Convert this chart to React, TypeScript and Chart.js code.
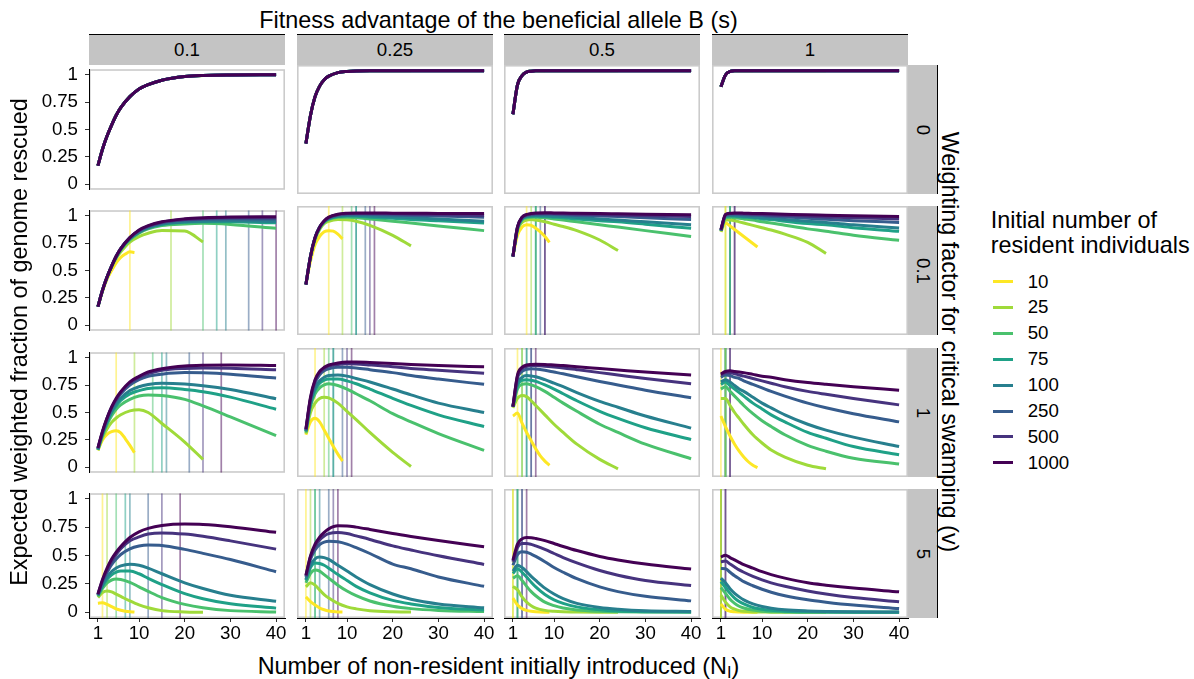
import React, { useEffect, useRef } from 'react';
import { Chart, registerables } from 'chart.js';

Chart.register(...registerables);

const FONT_FAMILY = '"Liberation Sans", Arial, Helvetica, sans-serif';
const TITLE_SIZE = 23.4;
const TEXT_SIZE = 18.7;

// ---------------- data ----------------
const S_LABELS = ['0.1', '0.25', '0.5', '1'];
const V_LABELS = ['0', '0.1', '1', '5'];
const RESIDENT_LABELS = ['10', '25', '50', '75', '100', '250', '500', '1000'];
const RESIDENT_COLORS = ['#FDE725', '#9FDA3A', '#4AC16D', '#1FA187', '#277F8E', '#365C8D', '#46337E', '#440154'];
const RESIDENT_MAX_X = [9, 24, 40, 40, 40, 40, 40, 40];
const X_TICKS = [1, 10, 20, 30, 40];
const Y_TICKS = [0, 0.25, 0.5, 0.75, 1];
const Y_TICK_LABELS = ['0', '0.25', '0.5', '0.75', '1'];

// N_I values at which the curves are read (N=10 uses X_GRID_10, N=25 stops at 24)
const X_GRID_10 = [1, 2, 3, 4, 5, 6, 7, 8, 9];
const X_GRID = [1, 2, 3, 4, 5, 6, 8, 10, 12, 15, 20, 24, 30, 40];

// v = 0 : every resident size gives the same curve
const V0_S010 = [0.17, 0.32, 0.44, 0.54, 0.63, 0.70, 0.80, 0.87, 0.91, 0.95, 0.983, 0.993, 0.998, 1.0];
const V0_S025 = [0.38, 0.62, 0.78, 0.87, 0.925, 0.955, 0.985, 0.995, 0.999, 1, 1, 1, 1, 1];
const V0_S050 = [0.63, 0.88, 0.96, 0.99, 0.997, 1, 1, 1, 1, 1, 1, 1, 1, 1];
const V0_S100 = [0.865, 0.965, 0.995, 1, 1, 1, 1, 1, 1, 1, 1, 1, 1, 1];

// v = 0.1 : one row per resident size (10, 25, 50, 75, 100, 250, 500, 1000)
const V01_S010 = [
  [0.17, 0.31, 0.42, 0.50, 0.57, 0.62, 0.65, 0.67, 0.665],
  [0.17, 0.31, 0.43, 0.53, 0.61, 0.67, 0.76, 0.81, 0.84, 0.865, 0.86, 0.76],
  [0.17, 0.32, 0.44, 0.54, 0.62, 0.69, 0.78, 0.84, 0.88, 0.91, 0.925, 0.93, 0.92, 0.885],
  [0.17, 0.32, 0.44, 0.54, 0.62, 0.69, 0.79, 0.85, 0.89, 0.92, 0.94, 0.945, 0.945, 0.935],
  [0.17, 0.32, 0.44, 0.54, 0.63, 0.70, 0.79, 0.85, 0.89, 0.925, 0.945, 0.95, 0.953, 0.948],
  [0.17, 0.32, 0.44, 0.54, 0.63, 0.70, 0.80, 0.86, 0.90, 0.935, 0.96, 0.967, 0.972, 0.97],
  [0.17, 0.32, 0.44, 0.54, 0.63, 0.70, 0.80, 0.865, 0.905, 0.94, 0.965, 0.975, 0.981, 0.982],
  [0.17, 0.32, 0.44, 0.54, 0.63, 0.70, 0.80, 0.87, 0.91, 0.945, 0.972, 0.982, 0.988, 0.99],
];
const V01_S025 = [
  [0.38, 0.58, 0.72, 0.79, 0.83, 0.84, 0.835, 0.81, 0.77],
  [0.38, 0.61, 0.76, 0.85, 0.90, 0.92, 0.935, 0.932, 0.92, 0.885, 0.80, 0.71],
  [0.38, 0.62, 0.77, 0.86, 0.91, 0.935, 0.953, 0.955, 0.95, 0.94, 0.92, 0.905, 0.88, 0.84],
  [0.38, 0.62, 0.78, 0.865, 0.915, 0.94, 0.96, 0.965, 0.962, 0.955, 0.945, 0.935, 0.925, 0.905],
  [0.38, 0.62, 0.78, 0.87, 0.918, 0.945, 0.965, 0.97, 0.97, 0.965, 0.957, 0.95, 0.94, 0.92],
  [0.38, 0.62, 0.78, 0.87, 0.92, 0.95, 0.973, 0.98, 0.98, 0.978, 0.974, 0.97, 0.965, 0.955],
  [0.38, 0.62, 0.78, 0.87, 0.92, 0.952, 0.977, 0.985, 0.987, 0.986, 0.983, 0.98, 0.976, 0.97],
  [0.38, 0.62, 0.78, 0.87, 0.925, 0.955, 0.98, 0.988, 0.99, 0.99, 0.989, 0.988, 0.987, 0.985],
];
const V01_S050 = [
  [0.62, 0.80, 0.87, 0.89, 0.885, 0.86, 0.83, 0.79, 0.74],
  [0.62, 0.84, 0.91, 0.93, 0.935, 0.93, 0.915, 0.895, 0.875, 0.84, 0.76, 0.67],
  [0.62, 0.85, 0.93, 0.95, 0.955, 0.955, 0.95, 0.94, 0.93, 0.915, 0.89, 0.87, 0.84, 0.79],
  [0.62, 0.86, 0.94, 0.958, 0.962, 0.962, 0.96, 0.955, 0.95, 0.94, 0.925, 0.915, 0.895, 0.86],
  [0.62, 0.86, 0.94, 0.962, 0.967, 0.968, 0.967, 0.963, 0.96, 0.952, 0.94, 0.93, 0.915, 0.89],
  [0.62, 0.87, 0.95, 0.97, 0.978, 0.98, 0.98, 0.978, 0.975, 0.97, 0.965, 0.96, 0.95, 0.935],
  [0.62, 0.87, 0.95, 0.975, 0.983, 0.986, 0.987, 0.986, 0.984, 0.98, 0.976, 0.972, 0.967, 0.96],
  [0.62, 0.87, 0.955, 0.978, 0.986, 0.99, 0.992, 0.991, 0.99, 0.988, 0.985, 0.983, 0.98, 0.975],
];
const V01_S100 = [
  [0.83, 0.905, 0.88, 0.85, 0.82, 0.79, 0.76, 0.73, 0.70],
  [0.83, 0.93, 0.93, 0.925, 0.915, 0.905, 0.885, 0.865, 0.845, 0.81, 0.74, 0.645],
  [0.84, 0.95, 0.955, 0.95, 0.945, 0.94, 0.93, 0.915, 0.905, 0.885, 0.855, 0.835, 0.80, 0.757],
  [0.84, 0.96, 0.965, 0.962, 0.958, 0.955, 0.95, 0.94, 0.935, 0.92, 0.90, 0.89, 0.865, 0.834],
  [0.84, 0.965, 0.97, 0.968, 0.965, 0.962, 0.957, 0.95, 0.945, 0.935, 0.92, 0.91, 0.89, 0.863],
  [0.84, 0.97, 0.98, 0.98, 0.978, 0.976, 0.972, 0.968, 0.963, 0.957, 0.945, 0.937, 0.925, 0.91],
  [0.845, 0.975, 0.985, 0.986, 0.985, 0.984, 0.98, 0.977, 0.974, 0.97, 0.962, 0.957, 0.95, 0.94],
  [0.85, 0.978, 0.988, 0.99, 0.99, 0.989, 0.987, 0.985, 0.983, 0.98, 0.975, 0.972, 0.967, 0.96],
];

// v = 1
const V1_S010 = [
  [0.155, 0.25, 0.30, 0.325, 0.333, 0.315, 0.26, 0.20, 0.134],
  [0.155, 0.27, 0.35, 0.41, 0.45, 0.48, 0.515, 0.525, 0.50, 0.40, 0.23, 0.072],
  [0.16, 0.29, 0.39, 0.47, 0.53, 0.57, 0.62, 0.65, 0.66, 0.655, 0.62, 0.56, 0.46, 0.29],
  [0.16, 0.30, 0.41, 0.50, 0.56, 0.61, 0.67, 0.70, 0.72, 0.725, 0.71, 0.69, 0.64, 0.53],
  [0.165, 0.31, 0.42, 0.51, 0.58, 0.63, 0.70, 0.735, 0.755, 0.767, 0.76, 0.745, 0.71, 0.625],
  [0.17, 0.32, 0.44, 0.54, 0.61, 0.67, 0.75, 0.80, 0.83, 0.85, 0.864, 0.862, 0.85, 0.815],
  [0.175, 0.32, 0.45, 0.55, 0.62, 0.68, 0.77, 0.82, 0.855, 0.885, 0.902, 0.906, 0.904, 0.89],
  [0.177, 0.33, 0.45, 0.55, 0.63, 0.69, 0.78, 0.83, 0.87, 0.90, 0.925, 0.932, 0.934, 0.928],
];
const V1_S025 = [
  [0.31, 0.42, 0.45, 0.42, 0.35, 0.28, 0.21, 0.145, 0.086],
  [0.32, 0.50, 0.58, 0.62, 0.63, 0.625, 0.58, 0.51, 0.44, 0.33, 0.16, 0.04],
  [0.33, 0.55, 0.66, 0.71, 0.735, 0.745, 0.73, 0.70, 0.66, 0.60, 0.49, 0.42, 0.32, 0.177],
  [0.34, 0.57, 0.69, 0.75, 0.775, 0.785, 0.785, 0.77, 0.745, 0.70, 0.62, 0.56, 0.48, 0.38],
  [0.34, 0.58, 0.71, 0.77, 0.80, 0.815, 0.82, 0.81, 0.79, 0.76, 0.70, 0.65, 0.58, 0.50],
  [0.35, 0.61, 0.75, 0.82, 0.855, 0.872, 0.885, 0.885, 0.88, 0.865, 0.84, 0.815, 0.785, 0.74],
  [0.355, 0.62, 0.77, 0.84, 0.875, 0.895, 0.91, 0.915, 0.913, 0.905, 0.89, 0.875, 0.86, 0.835],
  [0.36, 0.63, 0.78, 0.85, 0.885, 0.905, 0.922, 0.93, 0.93, 0.926, 0.918, 0.91, 0.90, 0.89],
];
const V1_S050 = [
  [0.47, 0.495, 0.41, 0.33, 0.26, 0.19, 0.13, 0.085, 0.05],
  [0.54, 0.62, 0.645, 0.635, 0.60, 0.56, 0.48, 0.40, 0.33, 0.23, 0.10, 0.02],
  [0.55, 0.70, 0.74, 0.745, 0.735, 0.72, 0.68, 0.63, 0.58, 0.51, 0.40, 0.33, 0.23, 0.106],
  [0.55, 0.73, 0.775, 0.78, 0.775, 0.765, 0.735, 0.70, 0.66, 0.60, 0.51, 0.45, 0.37, 0.27],
  [0.55, 0.75, 0.80, 0.815, 0.812, 0.805, 0.78, 0.75, 0.72, 0.67, 0.595, 0.545, 0.47, 0.367],
  [0.55, 0.79, 0.85, 0.868, 0.872, 0.87, 0.86, 0.845, 0.83, 0.805, 0.765, 0.735, 0.69, 0.625],
  [0.55, 0.81, 0.875, 0.893, 0.90, 0.90, 0.895, 0.888, 0.88, 0.865, 0.84, 0.82, 0.79, 0.745],
  [0.55, 0.82, 0.885, 0.905, 0.91, 0.912, 0.91, 0.905, 0.90, 0.89, 0.875, 0.863, 0.845, 0.82],
];
const V1_S100 = [
  [0.47, 0.38, 0.30, 0.23, 0.17, 0.12, 0.08, 0.05, 0.03],
  [0.62, 0.62, 0.56, 0.50, 0.45, 0.40, 0.31, 0.24, 0.18, 0.12, 0.05, 0.02],
  [0.70, 0.72, 0.68, 0.64, 0.60, 0.56, 0.49, 0.43, 0.38, 0.31, 0.22, 0.17, 0.11, 0.06],
  [0.74, 0.76, 0.73, 0.70, 0.67, 0.64, 0.58, 0.53, 0.48, 0.42, 0.33, 0.28, 0.21, 0.14],
  [0.76, 0.78, 0.76, 0.73, 0.70, 0.68, 0.63, 0.58, 0.54, 0.48, 0.40, 0.35, 0.29, 0.21],
  [0.80, 0.82, 0.815, 0.80, 0.79, 0.77, 0.74, 0.71, 0.68, 0.64, 0.58, 0.54, 0.49, 0.42],
  [0.82, 0.84, 0.84, 0.83, 0.82, 0.81, 0.79, 0.77, 0.75, 0.72, 0.68, 0.655, 0.62, 0.565],
  [0.83, 0.85, 0.855, 0.85, 0.845, 0.84, 0.825, 0.81, 0.80, 0.78, 0.755, 0.74, 0.72, 0.69],
];

// v = 5
const V5_S010 = [
  [0.08, 0.085, 0.07, 0.05, 0.03, 0.018, 0.01, 0.005, 0.002],
  [0.13, 0.175, 0.188, 0.18, 0.16, 0.14, 0.10, 0.065, 0.04, 0.015, 0.003, 0.0],
  [0.14, 0.21, 0.26, 0.285, 0.293, 0.29, 0.265, 0.225, 0.185, 0.13, 0.07, 0.04, 0.015, 0.003],
  [0.15, 0.23, 0.29, 0.33, 0.355, 0.365, 0.365, 0.34, 0.30, 0.245, 0.165, 0.12, 0.075, 0.037],
  [0.15, 0.24, 0.31, 0.36, 0.39, 0.41, 0.424, 0.415, 0.39, 0.34, 0.26, 0.21, 0.15, 0.097],
  [0.155, 0.27, 0.35, 0.42, 0.47, 0.51, 0.56, 0.585, 0.594, 0.59, 0.555, 0.52, 0.465, 0.358],
  [0.16, 0.28, 0.37, 0.45, 0.51, 0.56, 0.63, 0.665, 0.69, 0.70, 0.69, 0.67, 0.63, 0.557],
  [0.16, 0.29, 0.39, 0.47, 0.53, 0.58, 0.66, 0.71, 0.74, 0.765, 0.778, 0.775, 0.755, 0.705],
];
const V5_S025 = [
  [0.13, 0.09, 0.06, 0.035, 0.02, 0.01, 0.005, 0.002, 0.001],
  [0.215, 0.25, 0.23, 0.19, 0.15, 0.12, 0.075, 0.045, 0.028, 0.012, 0.003, 0.001],
  [0.25, 0.33, 0.36, 0.35, 0.32, 0.29, 0.23, 0.18, 0.14, 0.095, 0.05, 0.03, 0.015, 0.005],
  [0.27, 0.38, 0.42, 0.415, 0.40, 0.375, 0.32, 0.27, 0.22, 0.165, 0.10, 0.07, 0.04, 0.018],
  [0.28, 0.40, 0.455, 0.47, 0.465, 0.45, 0.40, 0.35, 0.30, 0.235, 0.155, 0.11, 0.07, 0.037],
  [0.30, 0.45, 0.53, 0.575, 0.597, 0.605, 0.60, 0.58, 0.55, 0.50, 0.41, 0.37, 0.30, 0.22],
  [0.31, 0.47, 0.56, 0.615, 0.65, 0.67, 0.68, 0.67, 0.65, 0.62, 0.565, 0.53, 0.48, 0.407],
  [0.315, 0.48, 0.58, 0.64, 0.68, 0.71, 0.736, 0.735, 0.725, 0.705, 0.67, 0.645, 0.61, 0.557],
];
const V5_S050 = [
  [0.12, 0.06, 0.03, 0.015, 0.007, 0.003, 0.001, 0, 0],
  [0.22, 0.19, 0.13, 0.085, 0.055, 0.035, 0.015, 0.007, 0.003, 0.001, 0, 0],
  [0.29, 0.31, 0.27, 0.22, 0.175, 0.14, 0.085, 0.055, 0.035, 0.018, 0.007, 0.003, 0.001, 0],
  [0.33, 0.37, 0.34, 0.30, 0.255, 0.215, 0.15, 0.105, 0.075, 0.045, 0.02, 0.01, 0.004, 0.001],
  [0.35, 0.40, 0.38, 0.345, 0.305, 0.27, 0.205, 0.155, 0.115, 0.075, 0.04, 0.025, 0.012, 0.005],
  [0.40, 0.49, 0.514, 0.51, 0.495, 0.475, 0.43, 0.38, 0.34, 0.285, 0.215, 0.175, 0.135, 0.096],
  [0.43, 0.55, 0.585, 0.585, 0.578, 0.565, 0.535, 0.50, 0.465, 0.42, 0.355, 0.315, 0.27, 0.227],
  [0.443, 0.58, 0.625, 0.637, 0.635, 0.628, 0.61, 0.585, 0.56, 0.525, 0.475, 0.445, 0.41, 0.367],
];
const V5_S100 = [
  [0.07, 0.025, 0.008, 0.003, 0.001, 0, 0, 0, 0],
  [0.145, 0.085, 0.045, 0.025, 0.013, 0.007, 0.002, 0.001, 0, 0, 0, 0],
  [0.21, 0.16, 0.11, 0.075, 0.05, 0.035, 0.017, 0.008, 0.004, 0.002, 0, 0, 0, 0],
  [0.26, 0.21, 0.16, 0.12, 0.09, 0.07, 0.04, 0.025, 0.015, 0.008, 0.003, 0.001, 0, 0],
  [0.29, 0.25, 0.20, 0.16, 0.13, 0.105, 0.07, 0.048, 0.034, 0.02, 0.01, 0.006, 0.003, 0.001],
  [0.372, 0.37, 0.34, 0.31, 0.285, 0.26, 0.225, 0.195, 0.17, 0.14, 0.105, 0.085, 0.06, 0.03],
  [0.43, 0.435, 0.41, 0.385, 0.36, 0.34, 0.305, 0.275, 0.25, 0.22, 0.18, 0.155, 0.125, 0.088],
  [0.47, 0.486, 0.465, 0.445, 0.425, 0.405, 0.375, 0.345, 0.32, 0.29, 0.25, 0.23, 0.205, 0.173],
];

// optimal N_I (vertical lines), per s column, per resident size
const OPT_V01 = [
  [8, 17, 24, 27, 29, 34, 37, 40],
  [6, 9, 11, 12, 12, 14, 15, 16],
  [4, 5, 6, 6, 6, 7, 8, 8],
  [2, 2, 3, 3, 3, 3, 4, 4],
];
const OPT_V1 = [
  [5, 9, 13, 15, 16, 21, 24, 28],
  [3, 5, 6, 7, 7, 9, 10, 11],
  [2, 3, 3, 4, 4, 5, 5, 6],
  [1, 2, 2, 2, 2, 2, 3, 3],
];
const OPT_V5 = [
  [2, 3, 5, 7, 8, 12, 15, 19],
  [1, 2, 3, 3, 4, 6, 7, 8],
  [1, 1, 2, 2, 2, 3, 3, 4],
  [1, 1, 1, 1, 1, 1, 2, 2],
];

const V0_CURVES = [V0_S010, V0_S025, V0_S050, V0_S100];
const ROW_PANELS = [null, [V01_S010, V01_S025, V01_S050, V01_S100], [V1_S010, V1_S025, V1_S050, V1_S100], [V5_S010, V5_S025, V5_S050, V5_S100]];
const ROW_OPTIMA = [null, OPT_V01, OPT_V1, OPT_V5];

// ---------------- layout ----------------
const COL_LEFT = [89, 297, 504, 712];
const ROW_TOP = [65, 206, 348, 489];
const PW = 196;
const PH = 129;
const M = 14;
const YAX = 60;
const XAX = 34;
const STRIP_FILL = '#c4c4c4';
const PANEL_BORDER = '#cbcbcb';

function withAlpha(hex: string, a: number) {
  const r = parseInt(hex.slice(1, 3), 16);
  const g = parseInt(hex.slice(3, 5), 16);
  const b = parseInt(hex.slice(5, 7), 16);
  return `rgba(${r},${g},${b},${a})`;
}

function seriesPoints(row: number, col: number, i: number) {
  if (row === 0) {
    const vals = V0_CURVES[col];
    return X_GRID.map((x, k) => ({ x, y: vals[k] })).filter((p) => p.x <= RESIDENT_MAX_X[i]);
  }
  const vals = (ROW_PANELS[row] as number[][][])[col][i];
  const xs = i === 0 ? X_GRID_10 : X_GRID;
  return vals.map((y, k) => ({ x: xs[k], y }));
}

function geometry(row: number, col: number) {
  const padL = col === 0 ? YAX : M;
  const padB = row === 3 ? XAX : M;
  return {
    left: COL_LEFT[col] - padL,
    top: ROW_TOP[row] - M,
    w: padL + PW + M,
    h: M + PH + padB,
  };
}

const panelBorderPlugin = {
  id: 'panelBorder',
  beforeDraw(chart: any) {
    const { left, top, right, bottom } = chart.chartArea;
    const ctx = chart.ctx;
    ctx.save();
    ctx.strokeStyle = PANEL_BORDER;
    ctx.lineWidth = 1.6;
    ctx.strokeRect(left + 0.8, top + 0.8, right - left - 1.6, bottom - top - 1.6);
    ctx.restore();
  },
};

function buildConfig(row: number, col: number): any {
  const datasets: any[] = [];
  const opt = ROW_OPTIMA[row];
  if (opt) {
    opt[col].forEach((xv, i) => {
      datasets.push({
        data: [{ x: xv, y: -0.05 }, { x: xv, y: 1.05 }],
        borderColor: withAlpha(RESIDENT_COLORS[i], 0.5),
        borderWidth: 1.7,
        pointRadius: 0,
        tension: 0,
        order: 20 + i,
      });
    });
  }
  RESIDENT_LABELS.forEach((lab, i) => {
    datasets.push({
      label: lab,
      data: seriesPoints(row, col, i),
      borderColor: RESIDENT_COLORS[i],
      borderWidth: 3,
      pointRadius: 0,
      cubicInterpolationMode: 'monotone',
      order: 7 - i,
    });
  });
  const isLeft = col === 0;
  const isBottom = row === 3;
  const tickFont = { family: FONT_FAMILY, size: TEXT_SIZE };
  return {
    type: 'line',
    data: { datasets },
    options: {
      responsive: false,
      animation: false,
      devicePixelRatio: 1,
      events: [],
      layout: { padding: { left: isLeft ? 0 : M, right: M, top: M, bottom: isBottom ? 0 : M } },
      plugins: { legend: { display: false }, tooltip: { enabled: false } },
      scales: {
        x: {
          type: 'linear',
          min: -0.95,
          max: 41.95,
          display: isBottom,
          afterBuildTicks: (s: any) => { s.ticks = X_TICKS.map((v) => ({ value: v })); },
          afterFit: (s: any) => { s.height = isBottom ? XAX : 0; },
          ticks: { font: tickFont, color: '#000', padding: 1, maxRotation: 0, autoSkip: false, callback: (v: any) => String(v) },
          grid: { drawOnChartArea: false, drawTicks: true, tickLength: 4, color: '#333', lineWidth: 1 },
          border: { display: true, color: '#000', width: 1 },
        },
        y: {
          type: 'linear',
          min: -0.05,
          max: 1.05,
          display: isLeft,
          afterBuildTicks: (s: any) => { s.ticks = Y_TICKS.map((v) => ({ value: v })); },
          afterFit: (s: any) => { s.width = isLeft ? YAX : 0; },
          ticks: { font: tickFont, color: '#000', padding: 7, autoSkip: false, callback: (_v: any, idx: number) => Y_TICK_LABELS[idx] },
          grid: { drawOnChartArea: false, drawTicks: true, tickLength: 4, color: '#333', lineWidth: 1 },
          border: { display: true, color: '#000', width: 1 },
        },
      },
    },
    plugins: [panelBorderPlugin],
  };
}

function Panel({ row, col }: { row: number; col: number }) {
  const ref = useRef<HTMLCanvasElement>(null);
  useEffect(() => {
    const chart = new Chart(ref.current as HTMLCanvasElement, buildConfig(row, col));
    return () => chart.destroy();
  }, [row, col]);
  const g = geometry(row, col);
  return (
    <canvas
      ref={ref}
      width={g.w}
      height={g.h}
      style={{ position: 'absolute', left: g.left, top: g.top, width: g.w, height: g.h }}
    />
  );
}

function Label({ x, y, size, children, anchor = 'middle', rotate = 0 }: any) {
  const shift = anchor === 'middle' ? '-50%' : anchor === 'end' ? '-100%' : '0';
  return (
    <div style={{ position: 'absolute', left: x, top: y, width: 0, height: 0, transform: rotate ? `rotate(${rotate}deg)` : undefined, transformOrigin: '0 0' }}>
      <div
        style={{
          position: 'absolute',
          left: 0,
          top: -0.8465 * size,
          whiteSpace: 'nowrap',
          fontFamily: FONT_FAMILY,
          fontSize: size,
          lineHeight: `${size}px`,
          color: '#000',
          transform: `translateX(${shift})`,
        }}
      >
        {children}
      </div>
    </div>
  );
}

export default function App() {
  const panels: any[] = [];
  for (let r = 0; r < 4; r++) for (let c = 0; c < 4; c++) panels.push(<Panel key={`${r}-${c}`} row={r} col={c} />);
  const centerX = (COL_LEFT[0] + COL_LEFT[3] + PW) / 2;
  const centerY = (ROW_TOP[0] + ROW_TOP[3] + PH) / 2;
  const digitHalf = 0.716 * TEXT_SIZE / 2;
  return (
    <div style={{ position: 'absolute', left: 0, top: 0, width: 1194, height: 679, background: '#fff', overflow: 'hidden' }}>
      {S_LABELS.map((s, c) => (
        <React.Fragment key={`s${c}`}>
          <div style={{ position: 'absolute', left: COL_LEFT[c], top: 34, width: PW, height: 31, background: STRIP_FILL }} />
          <div style={{ position: 'absolute', left: COL_LEFT[c], top: 33.5, width: PW, height: 1.5, background: '#000' }} />
          <Label x={COL_LEFT[c] + PW / 2} y={50 + digitHalf} size={TEXT_SIZE}>{s}</Label>
        </React.Fragment>
      ))}
      {V_LABELS.map((v, r) => (
        <React.Fragment key={`v${r}`}>
          <div style={{ position: 'absolute', left: 908, top: ROW_TOP[r], width: 29, height: PH, background: STRIP_FILL }} />
          <div style={{ position: 'absolute', left: 936.5, top: ROW_TOP[r], width: 1.5, height: PH, background: '#000' }} />
          <Label x={922.5 - digitHalf} y={ROW_TOP[r] + PH / 2} size={TEXT_SIZE} rotate={90}>{v}</Label>
        </React.Fragment>
      ))}
      {panels}
      <Label x={centerX} y={28.3} size={TITLE_SIZE}>Fitness advantage of the beneficial allele B (s)</Label>
      <Label x={centerX} y={674.5} size={TITLE_SIZE}>
        Number of non-resident initially introduced (N
        <span style={{ fontSize: TITLE_SIZE * 0.7, position: 'relative', top: 4 }}>I</span>)
      </Label>
      <Label x={27.5} y={centerY} size={TITLE_SIZE} rotate={-90}>Expected weighted fraction of genome rescued</Label>
      <Label x={941} y={centerY} size={TITLE_SIZE} rotate={90}>Weighting factor for critical swamping (v)</Label>
      <Label x={990.7} y={228.5} size={TITLE_SIZE} anchor="start">Initial number of</Label>
      <Label x={990.7} y={253.5} size={TITLE_SIZE} anchor="start">resident individuals</Label>
      {RESIDENT_LABELS.map((lab, i) => {
        const cy = 281.7 + i * 25.86;
        return (
          <React.Fragment key={`lg${i}`}>
            <div style={{ position: 'absolute', left: 992.7, top: cy - 1.5, width: 20, height: 3, background: RESIDENT_COLORS[i] }} />
            <Label x={1027.7} y={cy + digitHalf} size={TEXT_SIZE} anchor="start">{lab}</Label>
          </React.Fragment>
        );
      })}
    </div>
  );
}
